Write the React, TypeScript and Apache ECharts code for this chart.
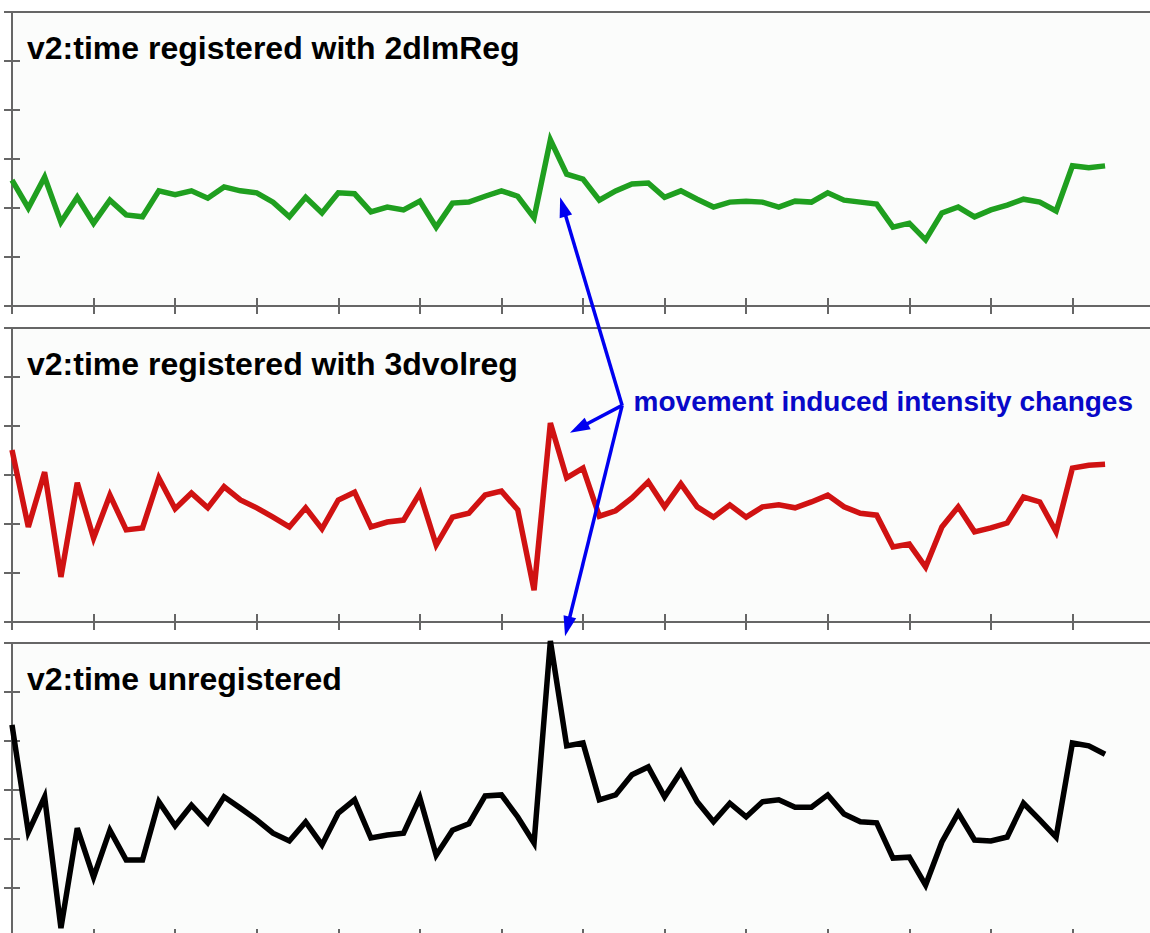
import React, { useEffect, useRef } from "react";
import * as echarts from "echarts";

// ---- data ----
const titles: string[] = [
  "v2:time registered with 2dlmReg",
  "v2:time registered with 3dvolreg",
  "v2:time unregistered",
];
const annotationText = "movement induced intensity changes";

const green2dImReg: number[] = [
  2.57, 2.0, 2.63, 1.71, 2.22, 1.69, 2.16, 1.86, 1.82, 2.35, 2.27, 2.35, 2.2, 2.43, 2.35, 2.31, 2.12, 1.82, 2.22, 1.9, 2.31, 2.29, 1.92, 2.02,
  1.96, 2.14, 1.61, 2.1, 2.12, 2.24, 2.35, 2.24, 1.8, 3.39, 2.69, 2.59, 2.16, 2.35, 2.49, 2.51, 2.22, 2.35, 2.18, 2.02, 2.12, 2.14, 2.12,
  2.02, 2.14, 2.12, 2.31, 2.16, 2.12, 2.08, 1.61, 1.69, 1.35, 1.9, 2.02, 1.82, 1.96, 2.06, 2.18, 2.12, 1.94, 2.86, 2.82, 2.86,
];
const red3dvolreg: number[] = [
  3.51, 1.94, 3.06, 0.92, 2.84, 1.71, 2.59, 1.88, 1.92, 2.94, 2.31, 2.63, 2.33, 2.76, 2.49, 2.33, 2.14, 1.94, 2.33, 1.9, 2.49, 2.65, 1.94, 2.04,
  2.08, 2.63, 1.57, 2.14, 2.22, 2.59, 2.67, 2.29, 0.65, 4.06, 2.94, 3.14, 2.16, 2.27, 2.53, 2.86, 2.35, 2.82, 2.35, 2.14, 2.39, 2.14, 2.35,
  2.39, 2.33, 2.45, 2.59, 2.35, 2.22, 2.18, 1.53, 1.59, 1.12, 1.94, 2.35, 1.84, 1.92, 2.02, 2.55, 2.45, 1.84, 3.14, 3.2, 3.22,
];
const blackUnregistered: number[] = [
  4.33, 2.14, 2.86, 0.18, 2.22, 1.22, 2.18, 1.57, 1.57, 2.76, 2.27, 2.69, 2.33, 2.86, 2.63, 2.39, 2.12, 1.96, 2.35, 1.88, 2.53, 2.8, 2.02, 2.08,
  2.12, 2.84, 1.67, 2.18, 2.31, 2.88, 2.9, 2.45, 1.92, 6.04, 3.9, 3.96, 2.8, 2.9, 3.31, 3.47, 2.86, 3.37, 2.76, 2.35, 2.73, 2.45, 2.76,
  2.8, 2.65, 2.65, 2.9, 2.51, 2.35, 2.33, 1.61, 1.63, 1.06, 1.94, 2.53, 1.98, 1.96, 2.04, 2.73, 2.39, 2.04, 3.96, 3.9, 3.73,
];
const seriesData: number[][] = [green2dImReg, red3dvolreg, blackUnregistered];
const seriesColors: string[] = ["#1f9f1f", "#d01212", "#000000"];

const xMin = 0;
const xMax = 70;
const xInterval = 5;
const yMin = 0;
const yMax = 6;
const yInterval = 1;

// annotation anchors in data coordinates: [gridIndex, x, y]
const junction: [number, number, number] = [1, 37.4, 4.42];
const arrowTips: [number, number, number][] = [
  [0, 33.6, 2.22],
  [1, 34.2, 3.86],
  [2, 33.9, 6.14],
];
const textAnchor: [number, number, number] = [1, 38.1, 4.49];

// ---- layout ----
const panelTops = [12, 328, 643];
const panelLeft = 12;
const panelWidth = 1142;
const panelHeight = 294;
const frameColor = "#666666";

export default function App() {
  const ref = useRef<HTMLDivElement>(null);
  useEffect(() => {
    if (!ref.current) return;
    const chart = echarts.init(ref.current, null, { renderer: "svg" });
    const grids = panelTops.map((t) => ({
      left: panelLeft,
      top: t,
      width: panelWidth,
      height: panelHeight,
      show: true,
      backgroundColor: "#fbfcfb",
      borderColor: frameColor,
      borderWidth: 2,
      containLabel: false,
      outerBoundsMode: "none",
    }));
    const tickStyle = { show: true, inside: true, length: 8, lineStyle: { color: frameColor, width: 2 } };
    const xAxes: any[] = [];
    const yAxes: any[] = [];
    panelTops.forEach((_, g) => {
      ["bottom", "top"].forEach((pos) =>
        xAxes.push({
          type: "value",
          gridIndex: g,
          position: pos,
          min: xMin,
          max: xMax,
          interval: xInterval,
          axisLine: { show: false },
          axisTick: tickStyle,
          axisLabel: { show: false },
          splitLine: { show: false },
        })
      );
      ["left", "right"].forEach((pos) =>
        yAxes.push({
          type: "value",
          gridIndex: g,
          position: pos,
          min: yMin,
          max: yMax,
          interval: yInterval,
          axisLine: { show: false },
          axisTick: tickStyle,
          axisLabel: { show: false },
          splitLine: { show: false },
        })
      );
    });
    const series = seriesData.map((d, g) => ({
      type: "line",
      xAxisIndex: g * 2,
      yAxisIndex: g * 2,
      data: d.map((v, i) => [i, v]),
      showSymbol: false,
      symbol: "none",
      clip: false,
      lineStyle: { color: seriesColors[g], width: 5.5, join: "miter", miterLimit: 10 },
      z: 3,
    }));
    chart.setOption({
      animation: false,
      backgroundColor: "#ffffff",
      grid: grids,
      xAxis: xAxes,
      yAxis: yAxes,
      series,
    });

    const px = (a: [number, number, number]) =>
      chart.convertToPixel({ gridIndex: a[0] } as any, [a[1], a[2]]) as number[];

    const graphics: any[] = [];
    const titleSize = 32;
    titles.forEach((t, g) => {
      const baseline = panelTops[g] + 47;
      graphics.push({
        type: "text",
        z: 10,
        style: {
          x: 27,
          y: baseline - 0.3465 * titleSize,
          text: t,
          fill: "#000000",
          font: `bold ${titleSize}px "Liberation Sans", Arial, sans-serif`,
          textAlign: "left",
          textVerticalAlign: "middle",
        },
      });
    });
    const J = px(junction);
    const blue = "#0000f0";
    arrowTips.forEach((tip) => {
      const T = px(tip);
      const dx = T[0] - J[0];
      const dy = T[1] - J[1];
      const len = Math.hypot(dx, dy);
      const ux = dx / len;
      const uy = dy / len;
      const L = 20;
      const W = 6.5;
      const bx = T[0] - ux * L;
      const by = T[1] - uy * L;
      graphics.push({
        type: "line",
        z: 20,
        shape: { x1: J[0], y1: J[1], x2: T[0] - ux * L * 0.6, y2: T[1] - uy * L * 0.6 },
        style: { stroke: blue, lineWidth: 3.5 },
      });
      graphics.push({
        type: "polygon",
        z: 20,
        shape: {
          points: [
            [T[0], T[1]],
            [bx - uy * W, by + ux * W],
            [bx + uy * W, by - ux * W],
          ],
        },
        style: { fill: blue },
      });
    });
    const TA = px(textAnchor);
    const annSize = 28;
    graphics.push({
      type: "text",
      z: 20,
      style: {
        x: TA[0],
        y: TA[1],
        text: annotationText,
        fill: "#0808c8",
        font: `bold ${annSize}px "Liberation Sans", Arial, sans-serif`,
        textAlign: "left",
        textVerticalAlign: "middle",
      },
    });
    chart.setOption({ graphic: graphics });
    return () => chart.dispose();
  }, []);
  return (
    <div
      style={{
        position: "absolute",
        left: 0,
        top: 0,
        width: 1150,
        height: 933,
        overflow: "hidden",
        background: "#ffffff",
      }}
    >
      <div ref={ref} style={{ width: 1160, height: 945 }} />
    </div>
  );
}
